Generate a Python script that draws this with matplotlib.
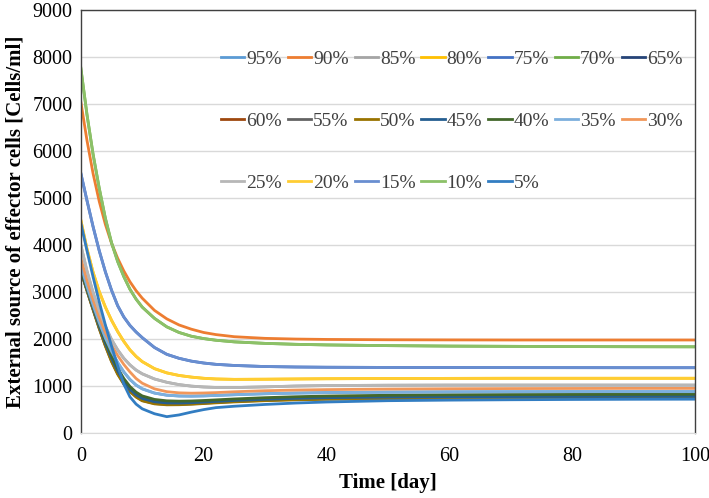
import matplotlib
matplotlib.use("Agg")
import matplotlib.pyplot as plt

plt.rcParams['font.family'] = ['Liberation Serif', 'DejaVu Serif']

days = [0, 1, 2, 3, 4, 5, 6, 7, 8, 9, 10, 12, 14, 16, 18, 20, 22, 25, 30, 35, 40,
        50, 60, 70, 80, 90, 100]

s90 = [7050, 6230, 5520, 4930, 4440, 4040, 3720, 3450, 3220, 3030, 2870, 2610, 2430,
       2300, 2210, 2140, 2095, 2050, 2015, 2000, 1992, 1985, 1982, 1980, 1980, 1980, 1980]
s70 = [7770, 6780, 5930, 5210, 4570, 4050, 3650, 3330, 3060, 2850, 2680, 2440, 2260,
       2140, 2060, 2010, 1975, 1940, 1908, 1888, 1875, 1860, 1850, 1845, 1840, 1837, 1835]
s75 = [5530, 4950, 4390, 3880, 3430, 3040, 2710, 2470, 2290, 2150, 2030, 1820, 1675,
       1590, 1530, 1490, 1462, 1438, 1415, 1405, 1400, 1396, 1394, 1392, 1391, 1390, 1390]
s80 = [4530, 3920, 3420, 3010, 2680, 2400, 2160, 1950, 1770, 1630, 1520, 1370, 1280,
       1225, 1190, 1165, 1150, 1142, 1145, 1150, 1155, 1160, 1163, 1165, 1165, 1165, 1165]
s85 = [4000, 3450, 2990, 2600, 2270, 1990, 1770, 1590, 1450, 1340, 1260, 1150, 1080,
       1030, 998, 980, 970, 968, 982, 1000, 1010, 1017, 1020, 1020, 1020, 1020, 1020]
s35 = [3560, 3120, 2720, 2350, 2020, 1740, 1500, 1300, 1140, 1020, 940, 850, 805,
       788, 785, 790, 800, 815, 836, 850, 860, 870, 876, 878, 880, 880, 880]
s65 = [3475, 3075, 2680, 2295, 1940, 1620, 1350, 1130, 960, 840, 762, 690, 662,
       658, 663, 675, 688, 708, 735, 755, 770, 785, 792, 797, 800, 801, 802]
s60 = [3460, 3045, 2640, 2245, 1880, 1555, 1285, 1070, 905, 788, 710, 642, 620,
       620, 628, 642, 657, 677, 703, 722, 735, 748, 755, 758, 760, 762, 762]
s55 = [3455, 3035, 2630, 2230, 1860, 1530, 1260, 1050, 890, 772, 692, 628, 608,
       610, 620, 634, 650, 670, 695, 713, 725, 738, 745, 748, 750, 752, 752]
s50 = [3450, 3030, 2620, 2220, 1850, 1520, 1250, 1040, 880, 765, 685, 620, 600,
       602, 612, 627, 642, 662, 688, 706, 718, 730, 737, 740, 742, 744, 745]
s45 = [3470, 3060, 2660, 2270, 1910, 1590, 1320, 1100, 930, 810, 735, 665, 640,
       638, 645, 658, 672, 692, 718, 738, 752, 766, 772, 776, 778, 780, 780]
s40 = [3480, 3090, 2700, 2320, 1970, 1650, 1380, 1160, 990, 870, 790, 715, 685,
       678, 682, 692, 705, 725, 752, 772, 787, 803, 812, 818, 821, 823, 825]
s30 = [3720, 3250, 2830, 2460, 2140, 1870, 1650, 1460, 1300, 1160, 1060, 940, 880,
       855, 848, 852, 860, 878, 900, 914, 924, 935, 942, 946, 948, 950, 950]
s5 = [4470, 3880, 3320, 2790, 2300, 1850, 1430, 1040, 770, 615, 515, 410, 348,
      385, 445, 498, 540, 570, 608, 638, 660, 688, 700, 708, 714, 718, 720]
# these series lie exactly under later drawn ones
s95 = list(s35)
s25 = list(s85)
s20 = list(s80)
s15 = list(s75)
s10 = list(s70)

labels = ['95%', '90%', '85%', '80%', '75%', '70%', '65%', '60%', '55%', '50%',
          '45%', '40%', '35%', '30%', '25%', '20%', '15%', '10%', '5%']
series = [s95, s90, s85, s80, s75, s70, s65, s60, s55, s50,
          s45, s40, s35, s30, s25, s20, s15, s10, s5]
colors = ['#5B9BD5', '#ED7D31', '#A5A5A5', '#FFC000', '#4472C4', '#70AD47', '#264478',
          '#9E480E', '#636363', '#997300', '#255E91', '#43682B', '#7CAFDD', '#F1975A',
          '#B7B7B7', '#FFCD33', '#698ED0', '#8CC168', '#327DC2']

fig = plt.figure(figsize=(7.09, 4.98), dpi=100)
ax = fig.add_axes([0.114, 0.1305, 0.866, 0.849])

lines = []
for lab, ys, c in zip(labels, series, colors):
    ln, = ax.plot(days, ys, color=c, lw=2.0, label=lab)
    lines.append(ln)

ax.set_xlim(0, 100)
ax.set_ylim(0, 9000)
ax.set_xticks(range(0, 101, 20))
ax.set_yticks(range(0, 9001, 1000))
ax.grid(axis='y', color='#d9d9d9', lw=1.0)
ax.set_axisbelow(True)
ax.tick_params(length=0, labelsize=14.5, colors='black')
ax.tick_params(axis='x', pad=10)
ax.tick_params(axis='y', pad=6)
for side in ['left', 'right', 'top']:
    ax.spines[side].set_color('#404040')
    ax.spines[side].set_linewidth(1.0)
ax.spines['bottom'].set_color('#d9d9d9')

ax.set_xlabel('Time [day]', fontsize=15, fontweight='bold', labelpad=5)
ax.set_ylabel('External source of effector cells [Cells/ml]', fontsize=15,
              fontweight='bold', labelpad=5)

# legend is filled row by row in the reference
order = []
for c in range(7):
    for r in range(3):
        i = r * 7 + c
        if i < len(lines):
            order.append(i)
leg = ax.legend([lines[i] for i in order], [labels[i] for i in order],
                ncol=7, loc='upper left', bbox_to_anchor=(221 / 709, 1 - 50 / 498),
                bbox_transform=fig.transFigure, frameon=False, fontsize=14,
                handlelength=1.2, handletextpad=0.1, columnspacing=0.3,
                labelspacing=2.3, borderpad=0, borderaxespad=0)
for t in leg.get_texts():
    t.set_color('#404040')

fig.savefig('out.png', dpi=100)
